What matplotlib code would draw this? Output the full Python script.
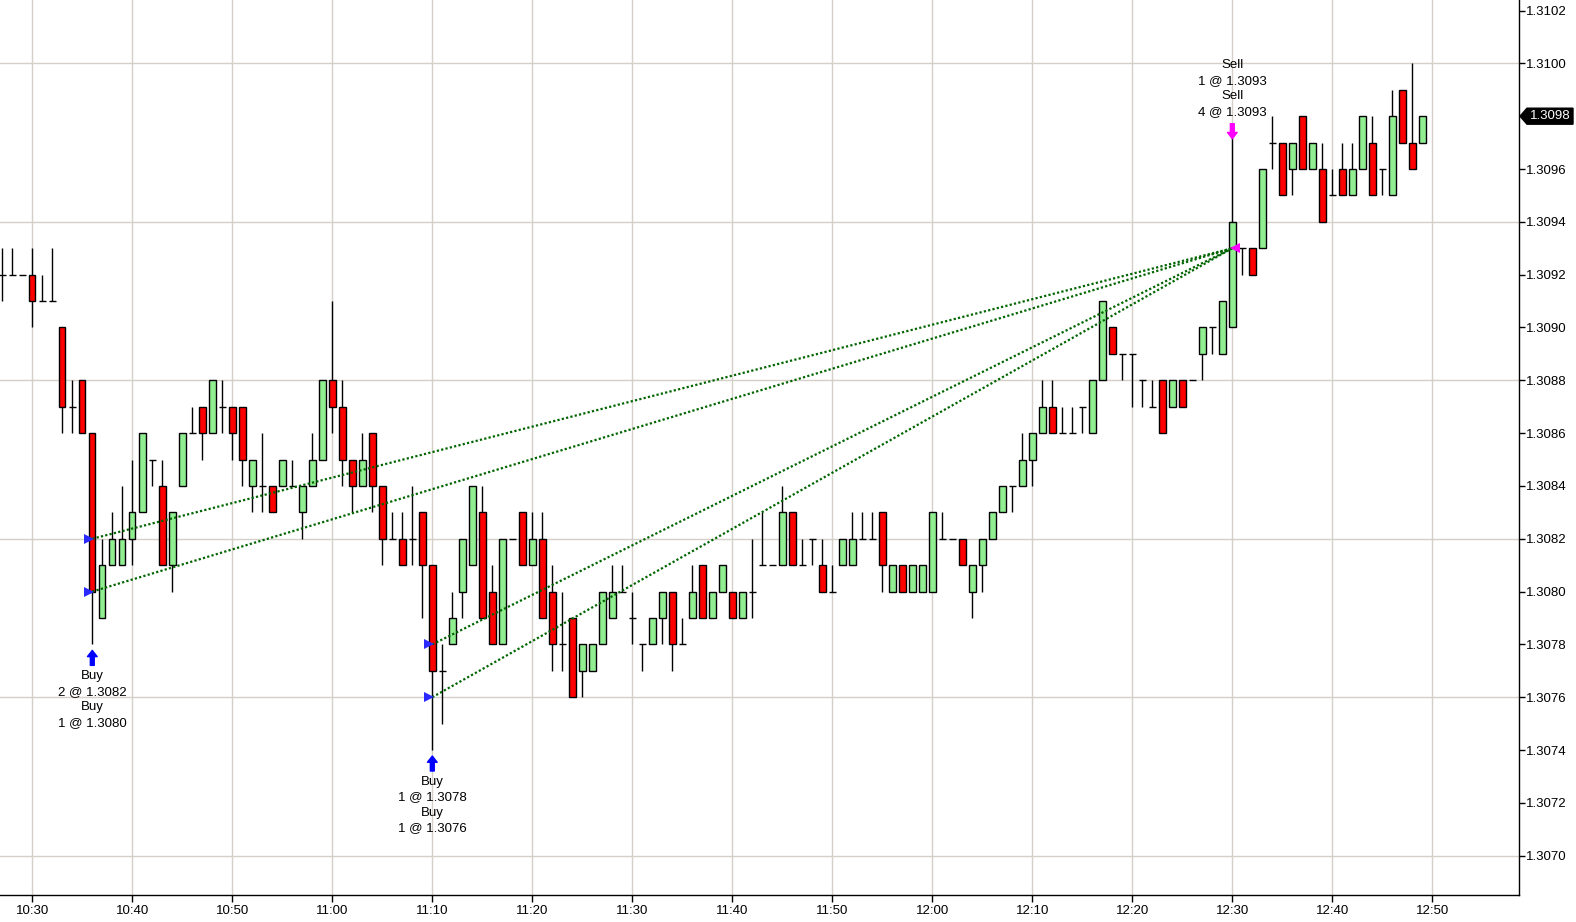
import matplotlib
matplotlib.use('Agg')
import matplotlib.pyplot as plt
import numpy as np
import pandas as pd
from matplotlib.patches import Rectangle, Polygon
from matplotlib.transforms import offset_copy, IdentityTransform

plt.rcParams['font.family'] = ['Liberation Sans', 'DejaVu Sans']

# 1-minute EUR/USD bars, 10:27 .. 12:49
first_bar = '10:27'
opens = [1.3092, 1.3092, 1.3092, 1.3092, 1.3091, 1.3091, 1.3090, 1.3087, 1.3088, 1.3086,
         1.3079, 1.3081, 1.3081, 1.3082, 1.3083, 1.3085, 1.3084, 1.3081, 1.3084, 1.3086,
         1.3087, 1.3086, 1.3087, 1.3087, 1.3087, 1.3084, 1.3084, 1.3084, 1.3084, 1.3084,
         1.3083, 1.3084, 1.3085, 1.3088, 1.3087, 1.3085, 1.3084, 1.3086, 1.3084, 1.3082,
         1.3082, 1.3082, 1.3083, 1.3081, 1.3077, 1.3078, 1.3080, 1.3081, 1.3083, 1.3080,
         1.3078, 1.3082, 1.3083, 1.3081, 1.3082, 1.3080, 1.3078, 1.3079, 1.3077, 1.3077,
         1.3078, 1.3079, 1.3080, 1.3079, 1.3078, 1.3078, 1.3079, 1.3080, 1.3078, 1.3079,
         1.3081, 1.3079, 1.3080, 1.3080, 1.3079, 1.3080, 1.3081, 1.3081, 1.3081, 1.3083,
         1.3081, 1.3082, 1.3081, 1.3080, 1.3081, 1.3081, 1.3082, 1.3082, 1.3083, 1.3080,
         1.3081, 1.3080, 1.3080, 1.3080, 1.3082, 1.3082, 1.3082, 1.3080, 1.3081, 1.3082,
         1.3083, 1.3084, 1.3084, 1.3085, 1.3086, 1.3087, 1.3086, 1.3086, 1.3087, 1.3086,
         1.3088, 1.3090, 1.3089, 1.3089, 1.3088, 1.3087, 1.3088, 1.3087, 1.3088, 1.3088,
         1.3089, 1.3090, 1.3089, 1.3090, 1.3093, 1.3093, 1.3093, 1.3097, 1.3097, 1.3096,
         1.3098, 1.3096, 1.3096, 1.3095, 1.3096, 1.3095, 1.3096, 1.3097, 1.3096, 1.3095,
         1.3099, 1.3097, 1.3097]
highs = [1.3093, 1.3093, 1.3092, 1.3093, 1.3092, 1.3093, 1.3090, 1.3088, 1.3088, 1.3086,
         1.3082, 1.3083, 1.3084, 1.3085, 1.3086, 1.3085, 1.3085, 1.3083, 1.3086, 1.3087,
         1.3087, 1.3088, 1.3088, 1.3087, 1.3087, 1.3085, 1.3086, 1.3084, 1.3085, 1.3085,
         1.3084, 1.3086, 1.3088, 1.3091, 1.3088, 1.3085, 1.3086, 1.3086, 1.3084, 1.3083,
         1.3083, 1.3084, 1.3083, 1.3081, 1.3078, 1.3080, 1.3082, 1.3084, 1.3084, 1.3081,
         1.3082, 1.3082, 1.3083, 1.3083, 1.3083, 1.3081, 1.3080, 1.3079, 1.3078, 1.3078,
         1.3080, 1.3081, 1.3081, 1.3080, 1.3078, 1.3079, 1.3080, 1.3080, 1.3079, 1.3081,
         1.3081, 1.3080, 1.3081, 1.3080, 1.3080, 1.3082, 1.3083, 1.3081, 1.3084, 1.3083,
         1.3082, 1.3082, 1.3082, 1.3081, 1.3082, 1.3083, 1.3083, 1.3083, 1.3083, 1.3081,
         1.3081, 1.3081, 1.3081, 1.3083, 1.3083, 1.3082, 1.3082, 1.3081, 1.3082, 1.3083,
         1.3084, 1.3084, 1.3086, 1.3086, 1.3088, 1.3088, 1.3087, 1.3087, 1.3087, 1.3088,
         1.3091, 1.3090, 1.3089, 1.3089, 1.3088, 1.3088, 1.3088, 1.3088, 1.3088, 1.3088,
         1.3090, 1.3090, 1.3091, 1.30973, 1.3093, 1.3093, 1.3096, 1.3098, 1.3097, 1.3097,
         1.3098, 1.3097, 1.3097, 1.3096, 1.3097, 1.3097, 1.3098, 1.3098, 1.3096, 1.3099,
         1.3099, 1.3100, 1.3098]
lows = [1.3091, 1.3092, 1.3092, 1.3090, 1.3091, 1.3091, 1.3086, 1.3086, 1.3086, 1.3078,
        1.3079, 1.3081, 1.3081, 1.3081, 1.3083, 1.3084, 1.3081, 1.3080, 1.3084, 1.3086,
        1.3085, 1.3086, 1.3086, 1.3085, 1.3084, 1.3083, 1.3083, 1.3083, 1.3084, 1.3084,
        1.3082, 1.3084, 1.3085, 1.3086, 1.3084, 1.3083, 1.3084, 1.3083, 1.3081, 1.3082,
        1.3081, 1.3081, 1.3079, 1.3074, 1.3075, 1.3078, 1.3079, 1.3081, 1.3079, 1.3078,
        1.3078, 1.3082, 1.3081, 1.3081, 1.3079, 1.3077, 1.3077, 1.3076, 1.3076, 1.3077,
        1.3078, 1.3079, 1.3080, 1.3078, 1.3077, 1.3078, 1.3078, 1.3077, 1.3078, 1.3079,
        1.3079, 1.3079, 1.3080, 1.3079, 1.3079, 1.3079, 1.3081, 1.3081, 1.3081, 1.3081,
        1.3081, 1.3081, 1.3080, 1.3080, 1.3081, 1.3081, 1.3082, 1.3082, 1.3080, 1.3080,
        1.3080, 1.3080, 1.3080, 1.3080, 1.3082, 1.3082, 1.3081, 1.3079, 1.3080, 1.3082,
        1.3083, 1.3083, 1.3084, 1.3084, 1.3086, 1.3086, 1.3086, 1.3086, 1.3086, 1.3086,
        1.3088, 1.3089, 1.3088, 1.3087, 1.3087, 1.3087, 1.3086, 1.3087, 1.3087, 1.3088,
        1.3088, 1.3089, 1.3089, 1.3090, 1.3092, 1.3092, 1.3093, 1.3096, 1.3095, 1.3095,
        1.3096, 1.3096, 1.3094, 1.3095, 1.3095, 1.3095, 1.3096, 1.3095, 1.3095, 1.3095,
        1.3097, 1.3096, 1.3097]
closes = [1.3092, 1.3092, 1.3092, 1.3091, 1.3091, 1.3091, 1.3087, 1.3087, 1.3086, 1.3080,
          1.3081, 1.3082, 1.3082, 1.3083, 1.3086, 1.3085, 1.3081, 1.3083, 1.3086, 1.3086,
          1.3086, 1.3088, 1.3087, 1.3086, 1.3085, 1.3085, 1.3084, 1.3083, 1.3085, 1.3084,
          1.3084, 1.3085, 1.3088, 1.3087, 1.3085, 1.3084, 1.3085, 1.3084, 1.3082, 1.3082,
          1.3081, 1.3082, 1.3081, 1.3077, 1.3077, 1.3079, 1.3082, 1.3084, 1.3079, 1.3078,
          1.3082, 1.3082, 1.3081, 1.3082, 1.3079, 1.3078, 1.3078, 1.3076, 1.3078, 1.3078,
          1.3080, 1.3080, 1.3080, 1.3079, 1.3078, 1.3079, 1.3080, 1.3078, 1.3078, 1.3080,
          1.3079, 1.3080, 1.3081, 1.3079, 1.3080, 1.3080, 1.3081, 1.3081, 1.3083, 1.3081,
          1.3081, 1.3082, 1.3080, 1.3080, 1.3082, 1.3082, 1.3082, 1.3082, 1.3081, 1.3081,
          1.3080, 1.3081, 1.3081, 1.3083, 1.3082, 1.3082, 1.3081, 1.3081, 1.3082, 1.3083,
          1.3084, 1.3084, 1.3085, 1.3086, 1.3087, 1.3086, 1.3086, 1.3086, 1.3087, 1.3088,
          1.3091, 1.3089, 1.3089, 1.3089, 1.3088, 1.3087, 1.3086, 1.3088, 1.3087, 1.3088,
          1.3090, 1.3090, 1.3091, 1.3094, 1.3093, 1.3092, 1.3096, 1.3097, 1.3095, 1.3097,
          1.3096, 1.3097, 1.3094, 1.3095, 1.3095, 1.3096, 1.3098, 1.3095, 1.3096, 1.3098,
          1.3097, 1.3096, 1.3098]

# executions
buy_times = ['10:36', '10:36', '11:10', '11:10']
buy_prices = [1.3082, 1.3080, 1.3078, 1.3076]
buy_qty = [2, 1, 1, 1]
sell_time = '12:30'
sell_prices = [1.3093, 1.3093]
sell_qty = [1, 4]

times = pd.date_range('2000-01-01 ' + first_bar, periods=len(opens), freq='min')
xs = np.asarray(times.hour * 60 + times.minute, dtype=float)


def tmin(s):
    h, m = s.split(':')
    return int(h) * 60 + int(m)


W, H = 1576, 922
fig = plt.figure(figsize=(W / 100, H / 100), dpi=100)
ax = fig.add_axes([0, 27 / H, 1519 / W, 895 / H])
ax.set_xlim(626.77, 778.67)
ax.set_ylim(1.306851, 1.310240)

gridc = '#d4d0c8'
xticks = np.arange(630, 771, 10)
for gx in xticks:
    ax.axvline(gx, color=gridc, lw=1, zorder=0)
for gy in np.arange(1.3070, 1.31005, 0.0006):
    ax.axhline(gy, color=gridc, lw=1, zorder=0)

bw = 0.64
for x, o, h, l, c in zip(xs, opens, highs, lows, closes):
    ax.vlines(x, l, h, color='black', lw=1, zorder=2)
    if abs(c - o) < 1e-9:
        ax.hlines(o, x - bw / 2, x + bw / 2, color='black', lw=1, zorder=3)
    else:
        fc = '#90ee90' if c > o else '#ff0000'
        ax.add_patch(Rectangle((x - bw / 2, min(o, c)), bw, abs(c - o),
                               facecolor=fc, edgecolor='black', lw=1, zorder=3))

# trade lines
sx = tmin(sell_time)
for bt, bp in zip(buy_times, buy_prices):
    bx = tmin(bt)
    ax.plot([bx, sx], [bp, sell_prices[0]], color='#006400', lw=1.6,
            ls=(0, (1, 1)), zorder=4)
    ax.plot(bx - 0.3, bp, marker='>', color='#2a2aff', ms=7, mew=0, zorder=5)
ax.plot(sx + 0.3, sell_prices[0], marker='<', color='#ff00ff', ms=7, mew=0, zorder=5)

arrow_style = 'simple,head_length=0.45,head_width=0.7,tail_width=0.28'

# buy arrows and labels
idx = {t: i for i, t in enumerate(times.strftime('%H:%M'))}
for bt in dict.fromkeys(buy_times):
    bx = tmin(bt)
    low = lows[idx[bt]]
    lines = []
    for t, p, q in zip(buy_times, buy_prices, buy_qty):
        if t == bt:
            lines += ['Buy', f'{q} @ {p:.4f}']
    tr = offset_copy(ax.transData, fig=fig, x=0, y=-6, units='dots')
    ax.annotate('', xy=(bx, low), xycoords=tr, xytext=(0, -15), textcoords='offset pixels',
                arrowprops=dict(arrowstyle=arrow_style, color='#0000ff', shrinkA=0, shrinkB=0))
    ax.annotate('\n'.join(lines), xy=(bx, low), xytext=(0, -26), textcoords='offset pixels',
                ha='center', va='top', fontsize=9.5, linespacing=1.38)

# sell arrow and label
high = highs[idx[sell_time]]
tr = offset_copy(ax.transData, fig=fig, x=0, y=-4, units='dots')
ax.annotate('', xy=(sx, high), xycoords=tr, xytext=(0, 15), textcoords='offset pixels',
            arrowprops=dict(arrowstyle=arrow_style, color='#ff00ff', shrinkA=0, shrinkB=0))
sl = []
for p, q in zip(sell_prices, sell_qty):
    sl += ['Sell', f'{q} @ {p:.4f}']
ax.annotate('\n'.join(sl), xy=(sx, high), xytext=(0, 17), textcoords='offset pixels',
            ha='center', va='bottom', fontsize=9.5, linespacing=1.38)

# axes styling
for s in ['top', 'left']:
    ax.spines[s].set_visible(False)
for s in ['right', 'bottom']:
    ax.spines[s].set_linewidth(1)
ax.set_xticks(xticks)
ax.set_xticklabels([f'{int(m) // 60}:{int(m) % 60:02d}' for m in xticks])

last = closes[-1]
yticks = np.arange(1.3070, 1.31025, 0.0002)
ax.set_yticks(yticks)
# the last-price box covers its own tick label
ax.set_yticklabels(['' if abs(v - last) < 1e-7 else f'{v:.4f}' for v in yticks])
ax.yaxis.tick_right()
ax.tick_params(axis='y', length=4, width=1, pad=1, labelsize=9.5)
ax.tick_params(axis='x', length=5, width=1, pad=2, labelsize=9.5)

# last price marker on the right axis
xd, yd = ax.transData.transform((ax.get_xlim()[1], last))
pts = [(xd + 1, yd), (xd + 8, yd + 8), (xd + 54, yd + 8), (xd + 54, yd - 8), (xd + 8, yd - 8)]
fig.add_artist(Polygon(pts, closed=True, facecolor='black', edgecolor='black',
                       transform=IdentityTransform()))
fig.text((xd + 31) / W, yd / H, f'{last:.4f}', color='white', ha='center', va='center',
         fontsize=9.5)

fig.savefig('out.png', dpi=100)
